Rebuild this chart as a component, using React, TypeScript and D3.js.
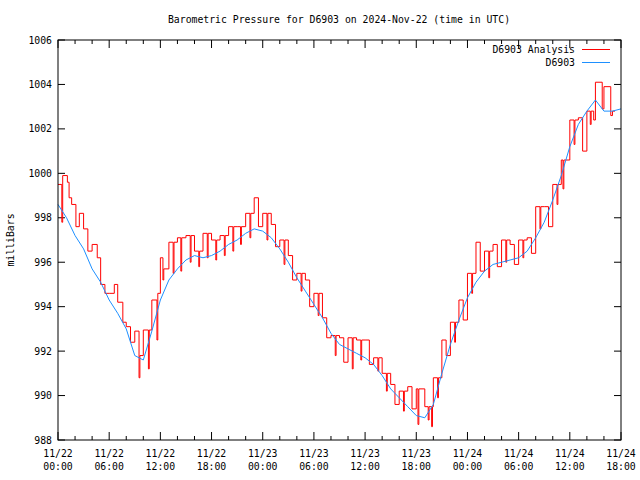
import React from "react";
import * as d3 from "d3";

const TITLE = "Barometric Pressure for D6903 on 2024-Nov-22 (time in UTC)";
const Y_LABEL = "milliBars";
const SERIES_NAMES = ["D6903 Analysis", "D6903"];
const Y_TICKS = [988, 990, 992, 994, 996, 998, 1000, 1002, 1004, 1006];
const X_TICK_HOURS = [0, 6, 12, 18, 24, 30, 36, 42, 48, 54, 60, 66];
const X_TICK_DATES = ["11/22", "11/22", "11/22", "11/22", "11/23", "11/23", "11/23", "11/23", "11/24", "11/24", "11/24", "11/24"];
const X_TICK_TIMES = ["00:00", "06:00", "12:00", "18:00", "00:00", "06:00", "12:00", "18:00", "00:00", "06:00", "12:00", "18:00"];

// Analysis series: [hours since 11/22 00:00, mbar], drawn as steps
const analysisHours = [
  0, 0.45, 0.55, 1.1, 1.3, 1.6, 2.1, 2.5, 3, 3.5, 4, 4.6, 5, 5.5, 6, 6.6, 7, 7.6, 8, 8.5, 9, 9.5, 9.6, 10, 10.6, 10.7, 11, 11.6, 11.7,
  12, 12.3, 12.4, 13, 13.5, 13.6, 14, 14.4, 14.5, 15, 15.5, 15.6, 16, 16.5, 16.6, 17, 17.5, 17.6, 18, 18.5, 18.6, 19, 19.5, 19.6, 20,
  20.5, 20.6, 21, 21.4, 21.5, 22, 22.5, 22.6, 23, 23.5, 24, 24.5, 24.6, 25, 25.5, 26, 26.5, 26.6, 27, 27.5, 28, 28.5, 28.6, 29, 29.5,
  30, 30.5, 30.6, 31, 31.5, 32, 32.5, 32.6, 33, 33.5, 34, 34.5, 34.6, 35, 35.5, 35.6, 36, 36.5, 37, 37.5, 37.6, 38, 38.5, 38.6, 39,
  39.5, 40, 40.5, 40.6, 41, 41.5, 42, 42.2, 42.3, 43, 43.4, 43.5, 43.8, 43.9, 44, 44.5, 44.6, 45, 45.5, 46, 46.5, 46.6, 47, 47.5, 48,
  48.5, 48.6, 49, 49.5, 50, 50.5, 50.6, 51, 51.5, 52, 52.5, 52.6, 53, 53.5, 54, 54.5, 54.6, 55, 55.5, 56, 56.5, 56.6, 57, 57.5, 58,
  58.5, 58.6, 59, 59.2, 59.3, 60, 60.5, 60.6, 61, 61.5, 62, 62.4, 62.5, 62.8, 63, 63.8, 64, 64.8, 65, 65.3,
];
const analysisValues = [
  999.5, 997.8, 999.9, 999.6, 998.9, 998.6, 997.6, 998.2, 997.5, 996.5, 996.8, 996.2, 995.0, 994.6, 994.6, 995.0, 994.2, 993.3, 993.1, 992.4, 992.9, 990.8, 991.8, 992.95, 991.2, 992.95, 994.3, 992.5, 994.6,
  996.2, 995.2, 995.7, 996.9, 995.5, 996.9, 997.1, 995.6, 997.1, 997.2, 996.0, 997.2, 996.5, 995.8, 996.5, 997.3, 996.2, 997.3, 997.0, 996.1, 997.0, 997.2, 996.3, 997.2, 997.6,
  996.5, 997.6, 997.6, 996.8, 997.6, 998.2, 997.1, 998.2, 998.9, 997.6, 998.2, 997.0, 998.2, 997.7, 996.7, 997.0, 995.9, 997.0, 996.3, 995.2, 995.5, 994.7, 995.5, 995.2, 994.0,
  994.6, 993.6, 994.6, 993.5, 992.6, 992.7, 991.8, 992.7, 992.6, 991.5, 992.6, 991.2, 992.6, 992.5, 991.6, 992.5, 992.5, 991.4, 991.7, 991.1, 991.7, 991.0, 990.2, 991.0, 990.5,
  989.6, 990.2, 989.3, 990.2, 990.4, 989.4, 990.3, 988.7, 990.3, 989.5, 988.9, 989.5, 988.6, 989.5, 990.8, 989.9, 990.8, 992.5, 991.8, 993.3, 992.4, 993.3, 994.3, 993.4, 995.5,
  994.6, 995.5, 996.9, 995.6, 996.5, 995.3, 996.5, 996.8, 995.8, 997.0, 996.0, 997.0, 996.8, 995.9, 997.0, 996.2, 997.0, 997.1, 996.4, 998.5, 997.5, 998.5, 998.5, 997.6, 999.5,
  998.6, 999.5, 1000.6, 999.3, 1000.6, 1002.4, 1001.3, 1002.4, 1002.5, 1001.0, 1002.8, 1002.2, 1002.8, 1002.4, 1004.1, 1002.9, 1003.9, 1002.6, 1002.8, 1002.8,
];

// Observed series, hourly
const observedHours = d3.range(0, 67);
const observedValues = [
  998.6, 998.0, 997.2, 996.6, 995.7, 995.1, 994.3, 993.7, 993.0, 991.8, 991.6, 992.9, 994.3, 995.2, 995.7, 996.1, 996.3, 996.2, 996.3, 996.5,
  996.8, 997.0, 997.3, 997.5, 997.4, 997.1, 996.6, 996.0, 995.3, 994.7, 994.1, 993.5, 992.8, 992.3, 992.1, 991.9, 991.7, 991.4, 990.9, 990.3,
  989.9, 989.5, 989.1, 989.0, 989.6, 991.0, 992.3, 993.4, 994.4, 995.1, 995.6, 995.9, 996.0, 996.1, 996.2, 996.5, 997.1, 997.8, 998.8, 999.9,
  1001.2, 1002.2, 1002.8, 1003.3, 1002.8, 1002.8, 1002.9,
];

const W = 640, H = 480;
const M = { left: 58, right: 621, top: 40, bottom: 440 };
const FONT = "'DejaVu Sans Mono', 'Liberation Mono', monospace";
const FS = 9.8;

export default function App() {
  const x = d3.scaleLinear().domain([0, 66]).range([M.left, M.right]);
  const y = d3.scaleLinear().domain([988, 1006]).range([M.bottom, M.top]);

  const redData = analysisHours.map((h, i) => [h, analysisValues[i]] as [number, number]);
  const blueData = observedHours.map((h, i) => [h, observedValues[i]] as [number, number]);

  const redLine = d3.line<[number, number]>().x(d => x(d[0])).y(d => y(d[1])).curve(d3.curveStepAfter);
  const blueLine = d3.line<[number, number]>().x(d => x(d[0])).y(d => y(d[1]));

  const minorHours = d3.range(0, 67, 2);

  return (
    <svg width={W} height={H} style={{ position: "absolute", left: 0, top: 0, background: "#fff" }} fontFamily={FONT}>
      <rect x={0} y={0} width={W} height={H} fill="#fff" />
      <text x={339} y={23} fontSize={FS} textAnchor="middle">{TITLE}</text>
      <text transform={`translate(14,240) rotate(-90)`} fontSize={FS} textAnchor="middle">{Y_LABEL}</text>

      {Y_TICKS.map(t => (
        <g key={t}>
          <line x1={M.left} x2={M.left + 7} y1={y(t)} y2={y(t)} stroke="#000" />
          <line x1={M.right} x2={M.right - 7} y1={y(t)} y2={y(t)} stroke="#000" />
          <text x={M.left - 6} y={y(t) + 3.5} fontSize={FS} textAnchor="end">{t}</text>
        </g>
      ))}

      {minorHours.map(h => {
        const major = h % 6 === 0;
        const len = major ? 8 : 4;
        return (
          <g key={h}>
            <line x1={x(h)} x2={x(h)} y1={M.bottom} y2={M.bottom - len} stroke="#000" />
            <line x1={x(h)} x2={x(h)} y1={M.top} y2={M.top + len} stroke="#000" />
          </g>
        );
      })}
      {X_TICK_HOURS.map((h, i) => (
        <g key={"l" + h}>
          <text x={x(h)} y={457} fontSize={FS} textAnchor="middle">{X_TICK_DATES[i]}</text>
          <text x={x(h)} y={470} fontSize={FS} textAnchor="middle">{X_TICK_TIMES[i]}</text>
        </g>
      ))}

      <path d={redLine(redData) || ""} fill="none" stroke="#ff0000" strokeWidth={1} />
      <path d={blueLine(blueData) || ""} fill="none" stroke="#1e90ff" strokeWidth={1} />

      <rect x={M.left} y={M.top} width={M.right - M.left} height={M.bottom - M.top} fill="none" stroke="#000" />

      <text x={575} y={53} fontSize={FS} textAnchor="end">{SERIES_NAMES[0]}</text>
      <line x1={582} x2={610} y1={49.5} y2={49.5} stroke="#ff0000" />
      <text x={575} y={66} fontSize={FS} textAnchor="end">{SERIES_NAMES[1]}</text>
      <line x1={582} x2={610} y1={62.5} y2={62.5} stroke="#1e90ff" />
    </svg>
  );
}
